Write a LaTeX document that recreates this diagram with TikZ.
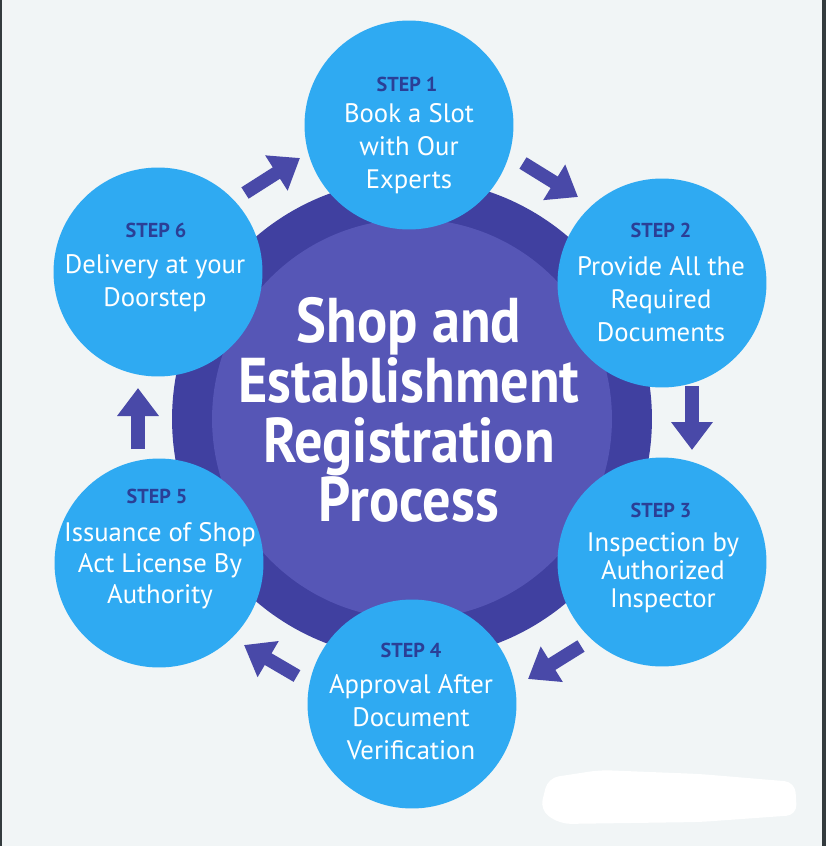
\documentclass[tikz,border=0pt]{standalone}
\usepackage{fontspec}
\setmainfont{PT Sans}
\newfontfamily\titlefont[FakeStretch=0.89]{PT Sans}
\usepackage{xcolor}
\usetikzlibrary{arrows.meta}

\definecolor{paper}{HTML}{F1F5F6}
\definecolor{edgedark}{HTML}{343B3E}
\definecolor{ringdark}{HTML}{4040A0}
\definecolor{ringcore}{HTML}{5656B6}
\definecolor{stepblue}{HTML}{2FAAF2}
\definecolor{labelblue}{HTML}{2B3F96}
\definecolor{flowblue}{HTML}{4949A8}

\tikzset{
  stepcircle/.style={circle, fill=stepblue, minimum size=4.18cm, inner sep=0pt},
  steplabel/.style={text=labelblue, font=\fontsize{11.5}{13}\selectfont\bfseries},
  stepbody/.style={text=white, align=center, inner sep=0pt,
    font=\fontsize{15.2}{18.8}\selectfont},
  flow/.style={draw=flowblue, line width=0.27cm,
    -{Triangle[width=0.8cm,length=0.56cm]}}
}

\begin{document}
\begin{tikzpicture}[x=0.02cm,y=-0.02cm]
\useasboundingbox (0,0) rectangle (826,846);
\fill[paper] (0,0) rectangle (826,846);
\fill[edgedark] (0,0) rectangle (2,846);
\fill[edgedark] (822,0) rectangle (826,846);

% Hub in the middle
\node[circle, fill=ringdark, minimum size=9.6cm, inner sep=0pt] (hub) at (412,419) {};
\node[circle, fill=ringcore, minimum size=8cm, inner sep=0pt] (core) at (hub) {};
\node[text=white, align=center, inner sep=0pt,
  font=\titlefont\fontsize{36}{34}\selectfont\bfseries] (title) at (409,410)
  {Shop and\\Establishment\\Registration\\Process};

% Arrows between the steps
\coordinate (f61a) at (245,193); \coordinate (f61b) at (300,158);
\coordinate (f12a) at (523,163); \coordinate (f12b) at (578,197);
\coordinate (f23a) at (692,386); \coordinate (f23b) at (692,450);
\coordinate (f34a) at (581,646); \coordinate (f34b) at (528,679);
\coordinate (f45a) at (297,676); \coordinate (f45b) at (244,645);
\coordinate (f56a) at (138,449); \coordinate (f56b) at (138,388);
\draw[flow] (f61a) -- (f61b);
\draw[flow] (f12a) -- (f12b);
\draw[flow] (f23a) -- (f23b);
\draw[flow] (f34a) -- (f34b);
\draw[flow] (f45a) -- (f45b);
\draw[flow] (f56a) -- (f56b);

% Step circles
\node[stepcircle] (s1) at (409,125) {};
\node[stepcircle] (s2) at (662,283) {};
\node[stepcircle] (s3) at (662,562) {};
\node[stepcircle] (s4) at (412,704) {};
\node[stepcircle] (s5) at (159,563) {};
\node[stepcircle] (s6) at (158,272) {};

% Step texts
\node[steplabel] (l1) at (407,84) {STEP 1};
\node[stepbody] (b1) at (409,149) {Book a Slot\\with Our\\Experts};
\node[steplabel] (l2) at (661,230) {STEP 2};
\node[stepbody] (b2) at (661,299) {Provide All the\\Required\\Documents};
\node[steplabel] (l3) at (661,510) {STEP 3};
\node[stepbody, font=\fontsize{15.2}{15.9}\selectfont] (b3) at (663,573)
  {Inspection by\\Authorized\\Inspector};
\node[steplabel] (l4) at (411,650) {STEP 4};
\node[stepbody] (b4) at (411,717) {Approval After\\Document\\Verification};
\node[steplabel] (l5) at (157,496) {STEP 5};
\node[stepbody, font=\fontsize{15.2}{17.6}\selectfont] (b5) at (160,566)
  {Issuance of Shop\\Act License By\\Authority};
\node[steplabel] (l6) at (156,230) {STEP 6};
\node[stepbody] (b6) at (155,283) {Delivery at your\\Doorstep};

% White patch at the bottom right
\fill[white, rounded corners=6] (548,778) -- (600,770) -- (700,774) -- (795,782)
  -- (797,815) -- (700,822) -- (560,824) -- (540,810) -- cycle;
\end{tikzpicture}
\end{document}
